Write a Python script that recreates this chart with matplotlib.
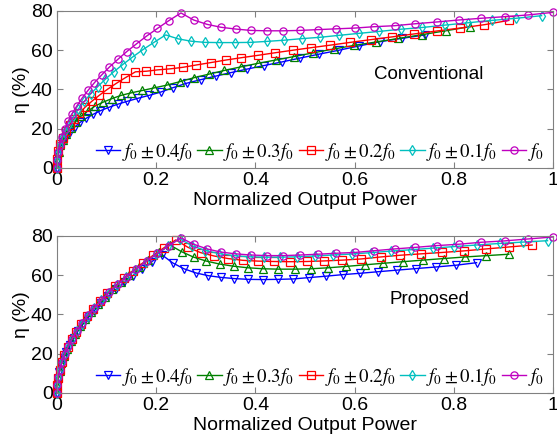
import matplotlib
matplotlib.use("Agg")
import matplotlib.pyplot as plt

plt.rcParams["font.family"] = ["Liberation Sans", "DejaVu Sans"]
plt.rcParams["mathtext.fontset"] = "stix"

# Legend labels and MATLAB-like colours / markers
labels = [r"$f_0 \pm 0.4f_0$", r"$f_0 \pm 0.3f_0$", r"$f_0 \pm 0.2f_0$",
          r"$f_0 \pm 0.1f_0$", r"$f_0$"]
colors = ["#0000ff", "#008000", "#ff0000", "#00bfbf", "#bf00bf"]
markers = ["v", "^", "s", "d", "o"]

# ---- Conventional (top panel) ----
conv_x_04 = [0, 0.0007, 0.0029, 0.0065, 0.0116, 0.0181, 0.0261, 0.0355, 0.0464, 0.0587, 0.0725,
             0.0877, 0.1043, 0.1225, 0.1420, 0.1630, 0.1855, 0.2094, 0.2348, 0.2616, 0.2898,
             0.3196, 0.3507, 0.3833, 0.4174, 0.4529, 0.4898, 0.5282, 0.5681, 0.6094, 0.6521,
             0.6963, 0.742]
conv_y_04 = [0, 3.5, 7.0, 10.2, 13.0, 15.8, 18.3, 20.8, 23.2, 25.3, 27.3, 29.2, 30.9, 32.5, 34.0,
             35.5, 37.0, 38.7, 41.0, 43.2, 45.0, 46.8, 48.6, 50.4, 52.2, 54.0, 56.0, 58.0, 60.0,
             62.2, 64.4, 66.1, 67.8]

conv_x_03 = [0, 0.0008, 0.0031, 0.0069, 0.0122, 0.0191, 0.0275, 0.0375, 0.0490, 0.0620, 0.0765,
             0.0926, 0.1102, 0.1293, 0.1499, 0.1721, 0.1958, 0.2211, 0.2479, 0.2762, 0.3060,
             0.3374, 0.3703, 0.4047, 0.4406, 0.4781, 0.5171, 0.5576, 0.5997, 0.6433, 0.6884,
             0.7351, 0.7833, 0.833]
conv_y_03 = [0, 4.0, 8.0, 11.5, 14.5, 17.5, 20.5, 23.5, 26.5, 29.0, 31.5, 33.5, 35.3, 37.0, 38.3,
             39.5, 40.8, 42.2, 44.0, 46.0, 47.8, 49.7, 51.5, 53.3, 55.0, 56.8, 58.7, 60.6, 62.5,
             64.2, 66.0, 67.9, 69.9, 72.0]

conv_x_02 = [0, 0.0007, 0.0028, 0.0063, 0.0112, 0.0176, 0.0253, 0.0344, 0.0450, 0.0569, 0.0703,
             0.0851, 0.1012, 0.1188, 0.1378, 0.1582, 0.1800, 0.2032, 0.2278, 0.2538, 0.2812,
             0.3100, 0.3403, 0.3719, 0.4049, 0.4394, 0.4752, 0.5124, 0.5511, 0.5912, 0.6327,
             0.6756, 0.7198, 0.7656, 0.8127, 0.8612, 0.911]
conv_y_02 = [0, 4.5, 8.5, 12.0, 15.5, 19.0, 22.0, 25.0, 28.0, 31.0, 34.0, 37.0, 40.0, 43.0, 46.0,
             49.0, 49.3, 50.0, 50.5, 51.3, 52.5, 53.7, 55.0, 56.2, 57.4, 58.7, 60.0, 61.3, 62.6,
             64.0, 65.4, 66.8, 68.3, 69.8, 71.3, 73.0, 75.2]

conv_x_01 = [0, 0.0007, 0.0027, 0.0061, 0.0108, 0.0169, 0.0244, 0.0332, 0.0433, 0.0548, 0.0677,
             0.0819, 0.0974, 0.1143, 0.1326, 0.1522, 0.1732, 0.1955, 0.2192, 0.2443, 0.2706,
             0.2984, 0.3275, 0.3579, 0.3897, 0.4229, 0.4574, 0.4932, 0.5305, 0.5690, 0.6089,
             0.6502, 0.6928, 0.7368, 0.7821, 0.8288, 0.8769, 0.9263, 0.977]
conv_y_01 = [0, 3.8, 7.5, 11.3, 15.1, 18.8, 22.6, 26.4, 30.1, 33.9, 37.7, 41.4, 45.2, 49.0, 52.7,
             56.5, 60.3, 64.0, 67.8, 65.8, 64.6, 64.0, 63.9, 63.9, 64.0, 64.5, 65.1, 65.9, 66.6,
             67.6, 68.6, 69.6, 70.7, 71.6, 72.8, 74.0, 75.2, 76.3, 77.6]

conv_x_f0 = [0, 0.0006, 0.0025, 0.0056, 0.01, 0.0156, 0.0225, 0.0306, 0.04, 0.0506, 0.0625,
             0.0756, 0.09, 0.1056, 0.1225, 0.1406, 0.16, 0.1806, 0.2025, 0.2256, 0.25, 0.2756,
             0.3025, 0.3306, 0.36, 0.3906, 0.4225, 0.4556, 0.49, 0.5256, 0.5625, 0.6006, 0.64,
             0.6806, 0.7225, 0.7656, 0.81, 0.8556, 0.9025, 0.9506, 1.0]
conv_y_f0 = [0, 4.0, 7.9, 11.9, 15.8, 19.8, 23.7, 27.7, 31.6, 35.6, 39.5, 43.5, 47.4, 51.4, 55.3,
             59.3, 63.2, 67.2, 71.1, 75.1, 79.0, 75.4, 73.2, 71.7, 70.8, 70.1, 69.9, 69.9, 70.1,
             70.5, 70.9, 71.3, 72.0, 72.5, 73.5, 74.4, 75.4, 76.3, 77.1, 78.0, 79.3]

# ---- Proposed (bottom panel) ----
prop_x_04 = [0, 0.0005, 0.0021, 0.0048, 0.0085, 0.0132, 0.0190, 0.0259, 0.0338, 0.0428, 0.0529,
             0.0640, 0.0761, 0.0894, 0.1036, 0.1190, 0.1354, 0.1528, 0.1713, 0.1909, 0.2115,
             0.2332, 0.2559, 0.2797, 0.3045, 0.3304, 0.3574, 0.3854, 0.4145, 0.4446, 0.4759,
             0.5081, 0.5414, 0.5758, 0.6113, 0.6478, 0.6853, 0.7239, 0.7636, 0.8043, 0.846]
prop_y_04 = [0, 3.5, 7.0, 10.6, 14.1, 17.6, 21.1, 24.6, 28.2, 31.7, 35.2, 38.7, 42.2, 45.8, 49.3,
             52.8, 56.3, 59.8, 63.4, 66.9, 70.4, 66.3, 63.3, 61.2, 59.8, 58.9, 58.3, 57.9, 57.8,
             57.9, 58.1, 58.8, 59.5, 60.3, 61.0, 61.8, 62.6, 63.4, 64.2, 65.1, 66.4]

prop_x_03 = [0, 0.0006, 0.0023, 0.0051, 0.0091, 0.0142, 0.0205, 0.0279, 0.0364, 0.0461, 0.0569,
             0.0689, 0.0820, 0.0962, 0.1116, 0.1281, 0.1457, 0.1645, 0.1844, 0.2055, 0.2278,
             0.2511, 0.2756, 0.3013, 0.3280, 0.3559, 0.3850, 0.4151, 0.4465, 0.4789, 0.5125,
             0.5472, 0.5830, 0.6200, 0.6582, 0.6974, 0.7378, 0.7794, 0.8221, 0.8659, 0.911]
prop_y_03 = [0, 3.8, 7.5, 11.3, 15.1, 18.9, 22.6, 26.4, 30.2, 33.9, 37.7, 41.5, 45.2, 49.0, 52.8,
             56.6, 60.3, 64.1, 67.9, 71.6, 75.4, 72.0, 69.2, 67.2, 65.7, 64.6, 63.8, 63.3, 63.1,
             63.1, 63.3, 63.8, 64.5, 65.3, 66.1, 66.9, 67.7, 68.5, 69.3, 70.0, 70.7]

prop_x_02 = [0, 0.0006, 0.0024, 0.0054, 0.0096, 0.0150, 0.0216, 0.0294, 0.0383, 0.0485, 0.0599,
             0.0725, 0.0863, 0.1012, 0.1174, 0.1348, 0.1533, 0.1731, 0.1941, 0.2162, 0.2395,
             0.2642, 0.2899, 0.3169, 0.3450, 0.3744, 0.4049, 0.4367, 0.4696, 0.5038, 0.5391,
             0.5756, 0.6134, 0.6523, 0.6924, 0.7338, 0.7763, 0.8200, 0.8650, 0.9111, 0.958]
prop_y_02 = [0, 3.9, 7.8, 11.7, 15.6, 19.5, 23.4, 27.3, 31.2, 35.1, 39.0, 42.9, 46.8, 50.7, 54.6,
             58.5, 62.4, 66.3, 70.2, 74.1, 78.0, 74.2, 71.5, 69.8, 68.5, 67.6, 67.2, 67.0, 66.9,
             67.0, 67.3, 67.7, 68.3, 69.3, 70.2, 70.9, 71.6, 72.4, 73.4, 74.4, 75.4]

prop_x_01 = [0, 0.0006, 0.0025, 0.0056, 0.0099, 0.0155, 0.0223, 0.0303, 0.0396, 0.0501, 0.0618,
             0.0748, 0.0890, 0.1045, 0.1211, 0.1391, 0.1582, 0.1786, 0.2002, 0.2231, 0.2472,
             0.2726, 0.2991, 0.3269, 0.3560, 0.3863, 0.4178, 0.4505, 0.4845, 0.5197, 0.5562,
             0.5939, 0.6328, 0.6730, 0.7144, 0.7571, 0.8009, 0.8460, 0.8924, 0.9400, 0.989]
prop_y_01 = [0, 3.9, 7.9, 11.8, 15.7, 19.7, 23.6, 27.5, 31.4, 35.4, 39.3, 43.2, 47.2, 51.1, 55.0,
             59.0, 62.9, 66.8, 70.7, 74.7, 78.6, 75.0, 72.6, 71.0, 70.0, 69.4, 69.2, 69.2, 69.4,
             69.8, 70.3, 70.8, 71.5, 72.3, 73.0, 73.8, 74.6, 75.4, 76.2, 76.9, 77.6]

prop_x_f0 = conv_x_f0
prop_y_f0 = [0, 4.0, 7.9, 11.9, 15.8, 19.8, 23.7, 27.7, 31.6, 35.6, 39.5, 43.5, 47.4, 51.4, 55.3,
             59.3, 63.2, 67.2, 71.1, 75.1, 79.0, 75.8, 73.4, 71.8, 70.9, 70.3, 70.0, 70.0, 70.3,
             70.7, 71.2, 71.6, 72.5, 73.4, 74.2, 75.1, 75.8, 76.8, 77.5, 78.5, 79.5]

x_ticks = [0, 0.2, 0.4, 0.6, 0.8, 1]
x_tick_labels = ["0", "0.2", "0.4", "0.6", "0.8", "1"]
y_ticks = [0, 20, 40, 60, 80]


def draw_panel(ax, xs, ys, title):
    """Draw one efficiency panel in the MATLAB look of the reference."""
    for x, y, c, m, lab in zip(xs, ys, colors, markers, labels):
        ax.plot(x, y, color=c, marker=m, markersize=5.2, markerfacecolor="none",
                markeredgewidth=0.9, linewidth=1.0, label=lab, clip_on=False)
    ax.set_xlim(0, 1)
    ax.set_ylim(0, 80)
    ax.set_xticks(x_ticks)
    ax.set_xticklabels(x_tick_labels)
    ax.set_yticks(y_ticks)
    ax.tick_params(direction="in", top=True, right=True, labelsize=14, length=4,
                   color="#808080")
    ax.tick_params(axis="x", pad=3)
    ax.tick_params(axis="y", pad=3)
    for s in ax.spines.values():
        s.set_color("#808080")
    ax.set_xlabel("Normalized Output Power", fontsize=14, labelpad=2)
    ax.set_ylabel("η (%)", fontsize=14, labelpad=1)
    ax.text(0.75, 47.5, title, fontsize=13.5, ha="center", va="center")
    ax.legend(loc="lower right", bbox_to_anchor=(1.005, -0.04), ncol=5, frameon=False,
              fontsize=13.5, handlelength=1.3, handletextpad=0.1, columnspacing=0.25,
              borderaxespad=0.2)


fig = plt.figure(figsize=(5.57, 4.43), dpi=100)
ax_top = fig.add_axes([0.1023, 0.6208, 0.8905, 0.3544])
ax_bot = fig.add_axes([0.1023, 0.1129, 0.8905, 0.3544])

draw_panel(ax_top,
           [conv_x_04, conv_x_03, conv_x_02, conv_x_01, conv_x_f0],
           [conv_y_04, conv_y_03, conv_y_02, conv_y_01, conv_y_f0],
           "Conventional")
draw_panel(ax_bot,
           [prop_x_04, prop_x_03, prop_x_02, prop_x_01, prop_x_f0],
           [prop_y_04, prop_y_03, prop_y_02, prop_y_01, prop_y_f0],
           "Proposed")

fig.savefig("out.png", dpi=100)
